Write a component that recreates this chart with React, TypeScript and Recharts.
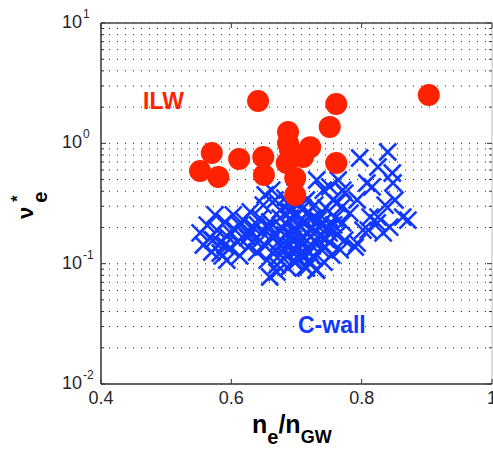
import React from 'react';
import {
  ScatterChart,
  Scatter,
  XAxis,
  YAxis,
  CartesianGrid,
  ReferenceLine,
  Customized,
} from 'recharts';

// n_e/n_GW vs collisionality, ILW (red dots) and C-wall (blue crosses)
const ilwPoints: [number, number][] = [
  [0.641, 2.25], [0.761, 2.12], [0.903, 2.52], [0.751, 1.37],
  [0.570, 0.83], [0.552, 0.59], [0.580, 0.525], [0.612, 0.74],
  [0.649, 0.77], [0.650, 0.545], [0.687, 1.24], [0.687, 1.0],
  [0.690, 0.88], [0.721, 0.93], [0.710, 0.77], [0.685, 0.686],
  [0.698, 0.516], [0.698, 0.372], [0.761, 0.686],
];

const cwallPoints: [number, number][] = [
  [0.552, 0.180], [0.557, 0.143], [0.563, 0.209], [0.567, 0.163], [0.570, 0.125],
  [0.575, 0.254], [0.578, 0.190], [0.583, 0.148], [0.586, 0.116], [0.590, 0.222],
  [0.593, 0.170], [0.598, 0.135], [0.603, 0.254], [0.606, 0.190], [0.610, 0.151],
  [0.613, 0.116], [0.618, 0.230], [0.621, 0.176], [0.626, 0.1375], [0.629, 0.269],
  [0.632, 0.205], [0.636, 0.157], [0.639, 0.125], [0.644, 0.239], [0.647, 0.183],
  [0.652, 0.140], [0.655, 0.107], [0.649, 0.307], [0.659, 0.222], [0.662, 0.166],
  [0.667, 0.130], [0.670, 0.0975], [0.659, 0.0775],
  [0.675, 0.279], [0.678, 0.198], [0.681, 0.148], [0.684, 0.116], [0.687, 0.092],
  [0.690, 0.239], [0.693, 0.173], [0.696, 0.130], [0.699, 0.103], [0.702, 0.307],
  [0.705, 0.209], [0.708, 0.157], [0.712, 0.118], [0.715, 0.092], [0.718, 0.269],
  [0.721, 0.190], [0.724, 0.140], [0.727, 0.1114], [0.730, 0.0886], [0.733, 0.230],
  [0.736, 0.170], [0.739, 0.130], [0.742, 0.103], [0.745, 0.290], [0.748, 0.198],
  [0.751, 0.151], [0.754, 0.118], [0.759, 0.239], [0.762, 0.173], [0.667, 0.338],
  [0.682, 0.351], [0.698, 0.394], [0.715, 0.338], [0.728, 0.307], [0.662, 0.409],
  [0.652, 0.372],
  [0.731, 0.496], [0.741, 0.409], [0.751, 0.434], [0.756, 0.338], [0.762, 0.319],
  [0.764, 0.496], [0.771, 0.409], [0.770, 0.296], [0.774, 0.386], [0.782, 0.263],
  [0.771, 0.218], [0.774, 0.157], [0.767, 0.130], [0.790, 0.1375], [0.793, 0.148],
  [0.797, 0.755], [0.808, 0.468], [0.816, 0.434], [0.825, 0.636], [0.840, 0.847],
  [0.847, 0.567], [0.848, 0.468], [0.851, 0.338], [0.813, 0.244], [0.825, 0.244],
  [0.824, 0.218], [0.802, 0.190], [0.810, 0.190], [0.833, 0.180], [0.843, 0.2015],
  [0.863, 0.244], [0.871, 0.230], [0.793, 0.338], [0.836, 0.307], [0.744, 0.1375],
  [0.731, 0.0886], [0.713, 0.0938], [0.701, 0.1136], [0.670, 0.0852], [0.583, 0.1226],
  [0.593, 0.107],
  [0.682, 0.173], [0.705, 0.135], [0.721, 0.103], [0.690, 0.143], [0.736, 0.254],
  [0.675, 0.118], [0.713, 0.222], [0.698, 0.198], [0.728, 0.157], [0.644, 0.157],
  [0.629, 0.183], [0.613, 0.209], [0.598, 0.183], [0.590, 0.143], [0.572, 0.157],
  [0.660, 0.200], [0.672, 0.150], [0.685, 0.210], [0.695, 0.160], [0.705, 0.120],
  [0.715, 0.180], [0.725, 0.240], [0.735, 0.200], [0.745, 0.160], [0.690, 0.270],
  [0.700, 0.250], [0.710, 0.145], [0.720, 0.125], [0.730, 0.185], [0.740, 0.220],
  [0.675, 0.240], [0.665, 0.175], [0.655, 0.200], [0.640, 0.210], [0.625, 0.165],
  [0.680, 0.135], [0.700, 0.185], [0.716, 0.260], [0.725, 0.115], [0.750, 0.180],
  [0.757, 0.210], [0.688, 0.310], [0.710, 0.290], [0.695, 0.105], [0.676, 0.105],
];

const xTicks = [0.4, 0.6, 0.8, 1];
const yDecades = [0.01, 0.1, 1, 10];
const yExponents = ['-2', '-1', '0', '1'];
const yMinors = [2, 3, 4, 5, 6, 7, 8, 9];

const yTicks: number[] = [];
yDecades.forEach((d, i) => {
  yTicks.push(d);
  if (i < yDecades.length - 1) yMinors.forEach((m) => yTicks.push(+(d * m).toPrecision(3)));
});

const ilwData = ilwPoints.map(([x, y]) => ({ x, y }));
const cwallData = cwallPoints.map(([x, y]) => ({ x, y }));

const PLOT_LEFT = 101;
const PLOT_RIGHT = 492;
const PLOT_TOP = 23;
const PLOT_BOTTOM = 384;
const RED = '#ff2200';
const BLUE = '#1038ff';
const INK = '#262626';
const FONT = '"Liberation Sans", Arial, sans-serif';

const XTick = (props: any) => {
  const { x, payload } = props;
  const v = payload.value;
  return (
    <g>
      <line x1={x} x2={x} y1={PLOT_BOTTOM} y2={PLOT_BOTTOM - 5} stroke="#333" />
      <line x1={x} x2={x} y1={PLOT_TOP} y2={PLOT_TOP + 5} stroke="#333" />
      <text x={x} y={PLOT_BOTTOM + 20} textAnchor="middle" fontSize={18} fill={INK} fontFamily={FONT}>
        {String(v)}
      </text>
    </g>
  );
};

const YTick = (props: any) => {
  const { y, payload } = props;
  const v = payload.value;
  const idx = yDecades.findIndex((d) => Math.abs(d - v) < 1e-9);
  const len = idx >= 0 ? 5 : 3;
  return (
    <g>
      <line x1={PLOT_LEFT} x2={PLOT_LEFT + len} y1={y} y2={y} stroke="#333" />
      <line x1={PLOT_RIGHT} x2={PLOT_RIGHT - len} y1={y} y2={y} stroke="#333" />
      {idx >= 0 && (
        <g fontFamily={FONT} fill={INK}>
          <text x={82} y={y + 5} textAnchor="end" fontSize={18}>10</text>
          <text x={83} y={y - 5} fontSize={12}>{yExponents[idx]}</text>
        </g>
      )}
    </g>
  );
};

const crossShape = (props: any) => {
  const { cx, cy } = props;
  const s = 8.5;
  return (
    <path
      d={`M${cx - s},${cy - s}L${cx + s},${cy + s}M${cx - s},${cy + s}L${cx + s},${cy - s}`}
      stroke={BLUE}
      strokeWidth={2.6}
      fill="none"
    />
  );
};

const dotShape = (props: any) => {
  const { cx, cy } = props;
  return <circle cx={cx} cy={cy} r={11} fill={RED} />;
};

const Annotations = () => (
  <g fontFamily={FONT} fontWeight="bold">
    <text x={143} y={109} fontSize={23} fill={RED}>ILW</text>
    <text x={298} y={333} fontSize={23} fill={BLUE}>C-wall</text>
    <text x={252} y={433} fontSize={25} fill="#000">
      <tspan>n</tspan>
      <tspan fontSize={20} dy={11}>e</tspan>
      <tspan dy={-11}>/n</tspan>
      <tspan fontSize={18} dy={10}>GW</tspan>
    </text>
    <text transform="rotate(-90)" x={-219} y={33} fill="#000">
      <tspan fontSize={22}>ν</tspan>
      <tspan fontSize={20} dx={4} dy={14}>e</tspan>
      <tspan fontSize={16} dx={-10} dy={-24}>*</tspan>
    </text>
  </g>
);

export default function App() {
  return (
    <div style={{ width: 493, height: 449, background: '#fff' }}>
      <style>{'body{margin:0}'}</style>
      <ScatterChart width={493} height={449} margin={{ top: PLOT_TOP, right: 493 - PLOT_RIGHT, bottom: 0, left: 0 }}>
        <CartesianGrid vertical={false} stroke="#222" strokeDasharray="1 7" />
        <XAxis
          type="number"
          dataKey="x"
          domain={[0.4, 1]}
          ticks={xTicks}
          interval={0}
          allowDataOverflow
          height={449 - PLOT_BOTTOM}
          axisLine={{ stroke: '#333', strokeWidth: 1.5 }}
          tickLine={false}
          tick={XTick}
        />
        <YAxis
          type="number"
          dataKey="y"
          scale="log"
          domain={[0.01, 10]}
          ticks={yTicks}
          interval={0}
          allowDataOverflow
          width={PLOT_LEFT}
          axisLine={{ stroke: '#333', strokeWidth: 1.5 }}
          tickLine={false}
          tick={YTick}
        />
        <ReferenceLine y={10} stroke="#444" strokeWidth={1.5} />
        <ReferenceLine x={1} stroke="#bbb" />
        <Scatter data={cwallData} shape={crossShape} isAnimationActive={false} />
        <Scatter data={ilwData} shape={dotShape} isAnimationActive={false} />
        <Customized component={Annotations} />
      </ScatterChart>
    </div>
  );
}
